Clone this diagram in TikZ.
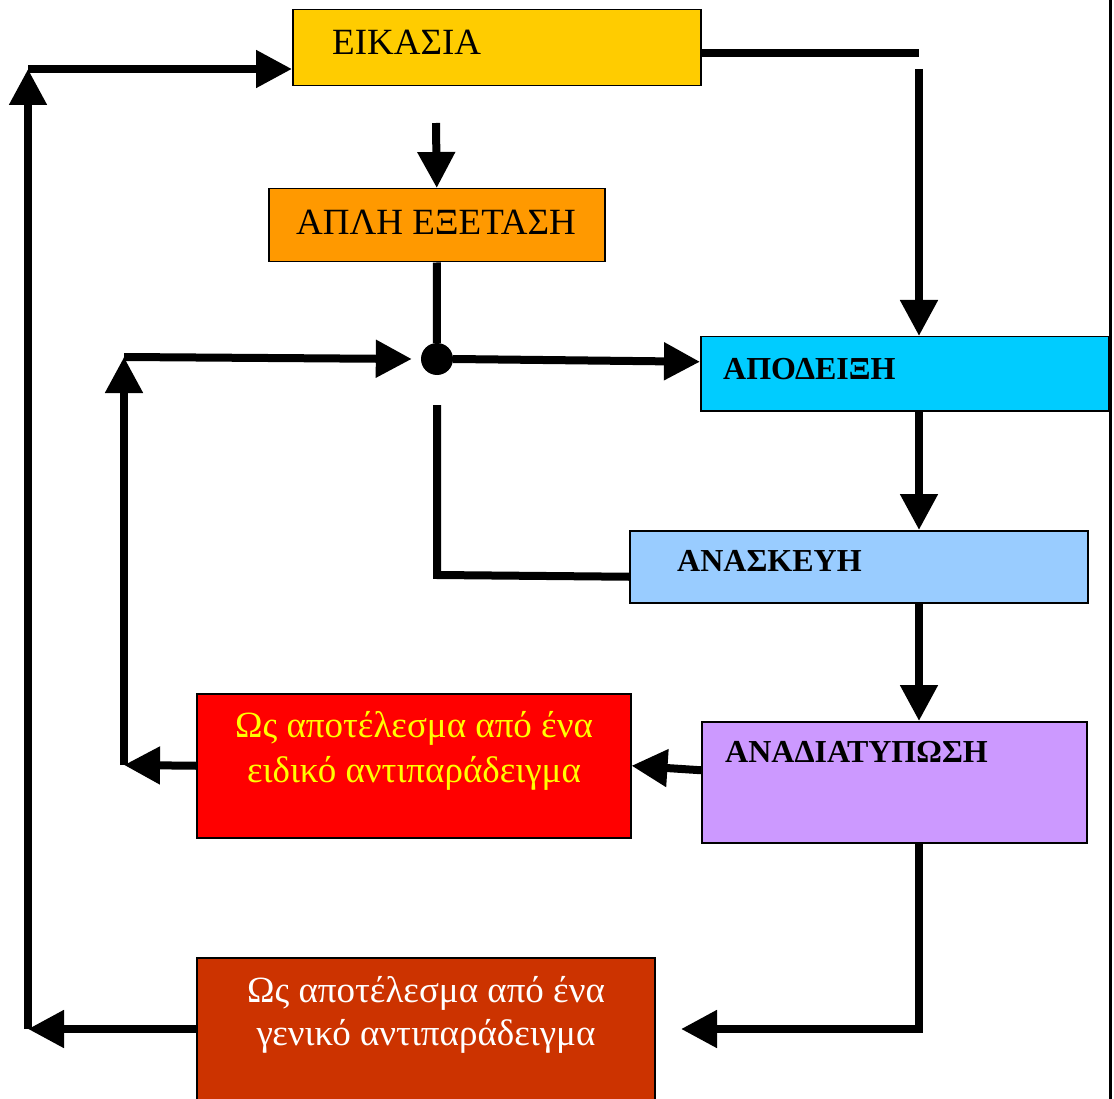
\documentclass[tikz,border=0pt]{standalone}
\usepackage{fontspec}
\setmainfont{Liberation Serif}
\usetikzlibrary{arrows.meta}
\definecolor{eikc}{HTML}{FFCC00}
\definecolor{aplc}{HTML}{FF9900}
\definecolor{apoc}{HTML}{00CCFF}
\definecolor{anac}{HTML}{99CCFF}
\definecolor{anadc}{HTML}{CC99FF}
\definecolor{redc}{HTML}{FF0000}
\definecolor{brownc}{HTML}{CC3300}
\definecolor{yelt}{HTML}{FFFF00}
\begin{document}
\begin{tikzpicture}[x=1pt,y=-1pt,
  box/.style={draw=black,line width=1.5pt,inner sep=0pt,anchor=north west},
  lbl/.style={inner sep=0pt,font=\fontsize{37}{41}\selectfont},
  blbl/.style={inner sep=0pt,font=\fontsize{32}{36}\selectfont\bfseries},
  wire/.style={line width=8pt},
  arr/.style={line width=8pt,-{Triangle[length=36pt,width=36pt]}}]
\useasboundingbox (0,0) rectangle (1114,1099);
% boxes
\node[box,fill=eikc,minimum width=408pt,minimum height=76pt] (eik) at (292,9) {};
\node[box,fill=aplc,minimum width=336pt,minimum height=73pt] (apl) at (268,188) {};
\node[box,fill=apoc,minimum width=408pt,minimum height=74pt] (apo) at (700,336) {};
\node[box,fill=anac,minimum width=458pt,minimum height=72pt] (ana) at (629,530) {};
\node[box,fill=anadc,minimum width=385pt,minimum height=121pt] (anad) at (701,721) {};
\node[box,fill=redc,minimum width=434pt,minimum height=144pt] (red) at (196,693) {};
\node[box,fill=brownc,minimum width=458pt,minimum height=170pt] (brown) at (196,957) {};
% texts
\node[lbl,anchor=base west] (eikT) at (332,55) {ΕΙΚΑΣΙΑ};
\node[lbl,anchor=base] (aplT) at (436,235) {ΑΠΛΗ ΕΞΕΤΑΣΗ};
\node[blbl,anchor=base west] (apoT) at (723,379) {ΑΠΟΔΕΙΞΗ};
\node[blbl,anchor=base west] (anaT) at (677,571) {ΑΝΑΣΚΕΥΗ};
\node[blbl,anchor=base west] (anadT) at (725,762) {ΑΝΑΔΙΑΤΥΠΩΣΗ};
\node[lbl,anchor=base,text=yelt] (redT1) at (414,737) {Ως αποτέλεσμα από ένα};
\node[lbl,anchor=base,text=yelt] (redT2) at (414,782) {ειδικό αντιπαράδειγμα};
\node[lbl,anchor=base,text=white] (brT1) at (426,1002) {Ως αποτέλεσμα από ένα};
\node[lbl,anchor=base,text=white] (brT2) at (426,1045) {γενικό αντιπαράδειγμα};
% junction dot
\node[circle,fill=black,inner sep=0pt,minimum size=32pt] (dot) at (437,359) {};
% page frame line
\draw[line width=3pt] (1110,0) -- (1110,1099);
% coordinates
\coordinate (a1) at (436,123);
\coordinate (r1) at (919,53);
\coordinate (r2) at (919,69);
\coordinate (l1) at (124,765);
\coordinate (l2) at (124,357);
\coordinate (k1) at (437,575);
\coordinate (k2) at (437,405);
\coordinate (b1) at (919,1029);
\coordinate (b2) at (681,1029);
\coordinate (c1) at (28,1029);
\coordinate (c2) at (28,69);
% connectors
\draw[arr] (a1) -- (apl.north);
\draw[wire] (eik.east |- r1) -- (r1);
\draw[arr] (r2) -- (r2 |- apo.north);
\draw[wire] (apl.south) -- (dot);
\draw[arr] (dot.east) -- ([yshift=12pt]apo.west);
\draw[arr] (red.west) -- (l1);
\draw[arr] (l1) -- (l2);
\draw[arr] (l2) -- ([xshift=-9pt]dot.west);
\draw[arr] (r2 |- apo.south) -- (r2 |- ana.north);
\draw[wire] ([yshift=-10pt]ana.west) -- (k1) -- (k2);
\draw[arr] (r2 |- ana.south) -- (r2 |- anad.north);
\draw[arr] ([yshift=12pt]anad.west) -- (red.east);
\draw[arr] (r2 |- anad.south) -- (b1) -- (b2);
\draw[arr] (brown.west |- c1) -- (c1);
\draw[arr] (c1) -- (c2);
\draw[arr] (c2) -- (eik.west |- c2);
\end{tikzpicture}
\end{document}
